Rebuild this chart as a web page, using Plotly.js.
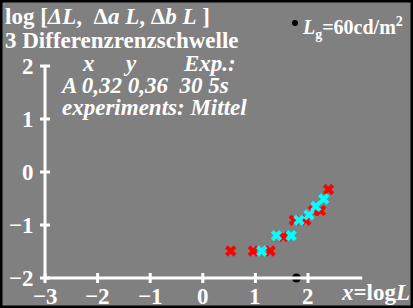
<!DOCTYPE html>
<html><head><meta charset="utf-8">
<script src="https://cdn.plot.ly/plotly-3.0.1.min.js"></script>
<style>html,body{margin:0;padding:0;background:#808080;}</style>
</head><body><div id="chart" style="width:413px;height:308px;"></div>
<script>
// Data (log L, log threshold)
const redX = [0.53, 0.96, 1.28, 1.53, 1.74, 1.96, 2.10, 2.24, 2.39];
const redY = [-1.49, -1.49, -1.49, -1.22, -0.91, -0.91, -0.73, -0.73, -0.33];
const cyanX = [1.12, 1.40, 1.68, 1.83, 2.02, 2.15, 2.30];
const cyanY = [-1.49, -1.20, -1.20, -0.91, -0.81, -0.65, -0.51];
const adaptX = [1.78];
const adaptY = [-2];
const xTicks = [-3, -2, -1, 0, 1, 2];
const yTicks = [-2, -1, 0, 1, 2];
const xTickLabels = ['\u22123', '\u22122', '\u22121', '0', '1', '2'];
const yTickLabels = ['\u22122', '\u22121', '0', '1', '2'];

const W = 413, H = 308;
const L = 29, R = 32, T = 40, B = 20;
const pxPerX = 52.6, pxPerY = 53;
const x0px = 45, y0px = 278; // pixel of (-3, -2)
const plotW = W - L - R, plotH = H - T - B;
const xMin = -3 - (x0px - L) / pxPerX, xMax = xMin + plotW / pxPerX;
const yMin = -2 - (H - B - y0px) / pxPerY, yMax = yMin + plotH / pxPerY;
const px = x => (x - L) / plotW;
const py = y => (H - B - y) / plotH;

const font = 'Liberation Serif, Times New Roman, serif';
const white = '#ffffff';

const shapes = [];
shapes.push({type:'line', xref:'x', yref:'y', x0:-3, x1:3.03, y0:-2, y1:-2, line:{color:white, width:3}});
shapes.push({type:'line', xref:'x', yref:'y', x0:-3, x1:-3, y0:-2, y1:2, line:{color:white, width:3}});
xTicks.forEach(t => shapes.push({type:'line', xref:'x', yref:'y', x0:t, x1:t, y0:-2 - 5/pxPerY, y1:-2 + 5/pxPerY, line:{color:white, width:3}}));
yTicks.forEach(t => shapes.push({type:'line', xref:'x', yref:'y', y0:t, y1:t, x0:-3 - 5/pxPerX, x1:-3 + 5/pxPerX, line:{color:white, width:3}}));
shapes.push({type:'rect', xref:'paper', yref:'paper', x0:px(1), x1:px(412), y0:py(1), y1:py(307), line:{color:'#000', width:3}});
shapes.push({type:'circle', xref:'paper', yref:'paper', x0:px(292), x1:px(298), y0:py(26), y1:py(20), fillcolor:'#000', line:{width:0}});

const ann = [];
xTickLabels.forEach((s, i) => ann.push({x: xTicks[i], y: py(296), xref:'x', yref:'paper', text: '<b>' + s + '</b>', showarrow:false, xanchor:'center', yanchor:'middle', font:{family:font, size:23, color:white}}));
yTickLabels.forEach((s, i) => ann.push({x: px(36), y: yTicks[i], xref:'paper', yref:'y', text: '<b>' + s + '</b>', showarrow:false, xanchor:'right', yanchor:'middle', font:{family:font, size:23, color:white}}));
function txt(x, y, s, size, anchor) {
  ann.push({x: px(x), y: py(y), xref:'paper', yref:'paper', text: '<b>' + s + '</b>', showarrow:false, xanchor: anchor || 'left', yanchor:'middle', font:{family:font, size:size, color:white}});
}
txt(3, 16, 'log [<i>\u0394L</i>,  \u0394<i>a L</i>, \u0394<i>b L</i> ]', 23);
txt(3, 40, '3 Differenzrenzschwelle', 23);
txt(80, 63, '<i>x</i>', 23);
txt(121, 63, '<i>y</i>', 23);
txt(181, 63, '<i>Exp.:</i>', 23);
txt(58, 86, '<i>A 0,32 0,36  30 5s</i>', 23);
txt(60, 107, '<i>experiments: Mittel</i>', 23);
txt(300, 28, '<i>L</i><sub>g</sub>=60cd/m<sup>2</sup>', 20);
txt(412, 292, '<i>x</i>=log<i>L</i>', 23, 'right');

const traces = [
  {x: redX, y: redY, type:'scatter', mode:'markers', marker:{symbol:'x', size:10, color:'#ff0000', line:{width:0}}, cliponaxis:false},
  {x: cyanX, y: cyanY, type:'scatter', mode:'markers', marker:{symbol:'x', size:10, color:'#00ffff', line:{width:0}}, cliponaxis:false},
  {x: adaptX, y: adaptY, type:'scatter', mode:'markers', marker:{symbol:'circle', size:9, color:'#000000'}, cliponaxis:false}
];

const layout = {
  width: W, height: H,
  margin: {l:L, r:R, t:T, b:B, pad:0},
  paper_bgcolor:'#808080', plot_bgcolor:'#808080',
  showlegend:false,
  xaxis:{range:[xMin, xMax], showgrid:false, zeroline:false, showticklabels:false, ticks:'', showline:false, fixedrange:true},
  yaxis:{range:[yMin, yMax], showgrid:false, zeroline:false, showticklabels:false, ticks:'', showline:false, fixedrange:true},
  shapes: shapes, annotations: ann
};
Plotly.newPlot('chart', traces, layout, {staticPlot:true, displayModeBar:false});
</script></body></html>
